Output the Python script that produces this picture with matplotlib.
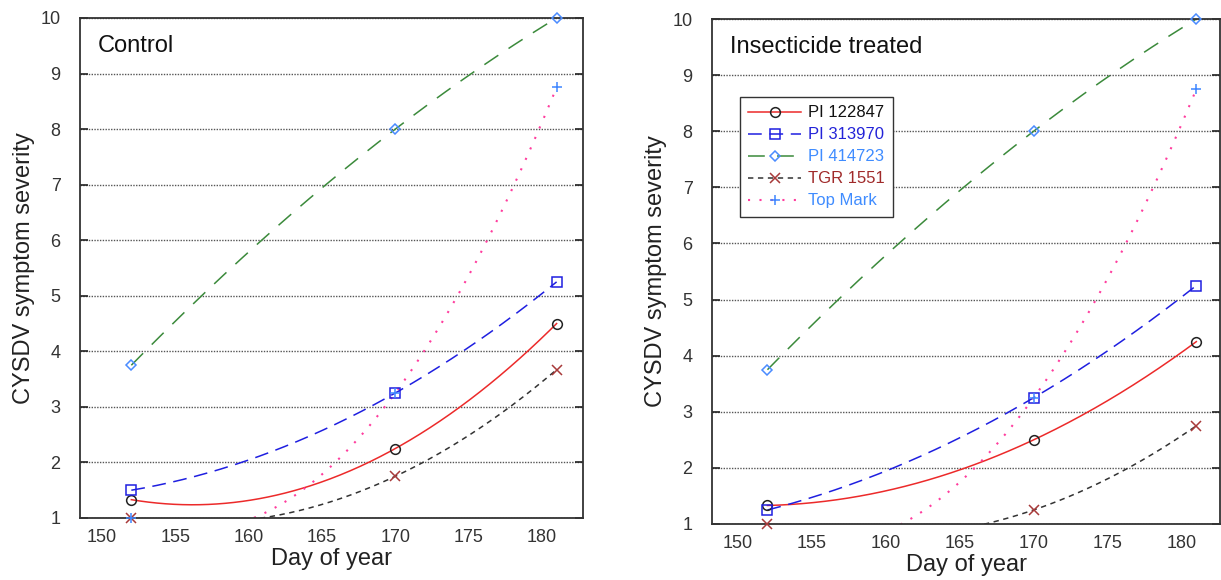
import numpy as np
from matplotlib import pyplot as plt

plt.rcParams['font.family'] = ['Liberation Sans', 'DejaVu Sans']

# data
days = [152, 170, 181]
lines = ["PI 122847", "PI 313970", "PI 414723", "TGR 1551", "Top Mark"]

control = {
    "PI 122847": [1.33, 2.25, 4.5],
    "PI 313970": [1.5, 3.25, 5.25],
    "PI 414723": [3.75, 8.0, 10.0],
    "TGR 1551": [1.0, 1.75, 3.67],
    "Top Mark": [1.0, 3.25, 8.75],
}
treated = {
    "PI 122847": [1.33, 2.5, 4.25],
    "PI 313970": [1.25, 3.25, 5.25],
    "PI 414723": [3.75, 8.0, 10.0],
    "TGR 1551": [1.0, 1.25, 2.75],
    "Top Mark": [0.75, 3.25, 8.75],
}

# line colour, dash pattern, line width, marker, marker colour, legend text colour
styles = {
    "PI 122847": dict(lc='#ec2a2a', dash=None, lw=1.1, m='o', mc='#222222', tc='#111111'),
    "PI 313970": dict(lc='#1f1fe0', dash=(9, 5), lw=1.1, m='s', mc='#1f1fe0', tc='#2323d8'),
    "PI 414723": dict(lc='#3b8a3b', dash=(11, 8), lw=1.1, m='D', mc='#4a8cff', tc='#3f8cff'),
    "TGR 1551": dict(lc='#333333', dash=(3.5, 3), lw=1.1, m='x', mc='#a83a3a', tc='#a02a2a'),
    "Top Mark": dict(lc='#ff3d9e', dash=(1, 4.5), lw=1.5, m='+', mc='#3f86ff', tc='#3f8cff'),
}

fig = plt.figure(figsize=(12.21, 5.8), dpi=100)
ax1 = fig.add_axes([80/1221, 1-518/580, 503/1221, 500/580])
ax2 = fig.add_axes([712/1221, 1-524/580, 508/1221, 505/580])

xs = np.linspace(days[0], days[-1], 300)


def draw(ax, data, title, xlim):
    handles = []
    for name in lines:
        st = styles[name]
        vals = np.array(data[name])
        coef = np.polyfit(days, vals, 2)
        ln, = ax.plot(xs, np.polyval(coef, xs), color=st['lc'], lw=st['lw'])
        if st['dash'] is not None:
            ln.set_dashes(st['dash'])
        msize = 5 if st['m'] == 'D' else 7
        inside = vals >= 1
        ax.plot(np.array(days)[inside], vals[inside], linestyle='none',
                marker=st['m'], ms=msize, mfc='none', mec=st['mc'], mew=1.1,
                clip_on=False, zorder=5)
        h, = ax.plot([], [], color=st['lc'], lw=st['lw'], marker=st['m'], ms=msize,
                     mfc='none', mec=st['mc'], mew=1.1, markevery=[1])
        if st['dash'] is not None:
            h.set_dashes(st['dash'])
        handles.append(h)

    ax.set_xlim(*xlim)
    ax.set_ylim(1, 10)
    ax.set_xticks([150, 155, 160, 165, 170, 175, 180])
    ax.set_yticks(range(1, 11))
    ax.yaxis.grid(True, linestyle=(0, (1, 1)), color='#555555', lw=1.0)
    ax.tick_params(axis='y', direction='in', length=6, width=1.2, right=True,
                   labelsize=13, pad=14, colors='#222222', labelcolor='#333333')
    ax.tick_params(axis='x', length=0, labelsize=13, pad=8, labelcolor='#333333')
    for sp in ax.spines.values():
        sp.set_linewidth(1.3)
        sp.set_color('#333333')
    ax.set_xlabel("Day of year", fontsize=17, labelpad=1, color='#222222')
    ax.set_ylabel("CYSDV symptom severity", fontsize=17, labelpad=4, color='#222222')
    ax.text(0.035, 0.945, title, transform=ax.transAxes, fontsize=17,
            va='center', ha='left', color='#111111')
    return handles


draw(ax1, control, "Control", (148.5, 182.8))
handles = draw(ax2, treated, "Insecticide treated", (148.25, 182.6))

# legend handles need three points so the marker sits in the middle
for h in handles:
    h.set_data([0, 1, 2], [0, 0, 0])

leg = ax2.legend(handles, lines, loc='upper left', bbox_to_anchor=(0.038, 0.862),
                 fontsize=12, handlelength=3.2, handletextpad=0.4,
                 labelspacing=0.42, borderpad=0.5, fancybox=False,
                 framealpha=1, edgecolor='#333333')
leg.get_frame().set_linewidth(1.0)
for txt, name in zip(leg.get_texts(), lines):
    txt.set_color(styles[name]['tc'])

fig.savefig("out.png", dpi=100)
